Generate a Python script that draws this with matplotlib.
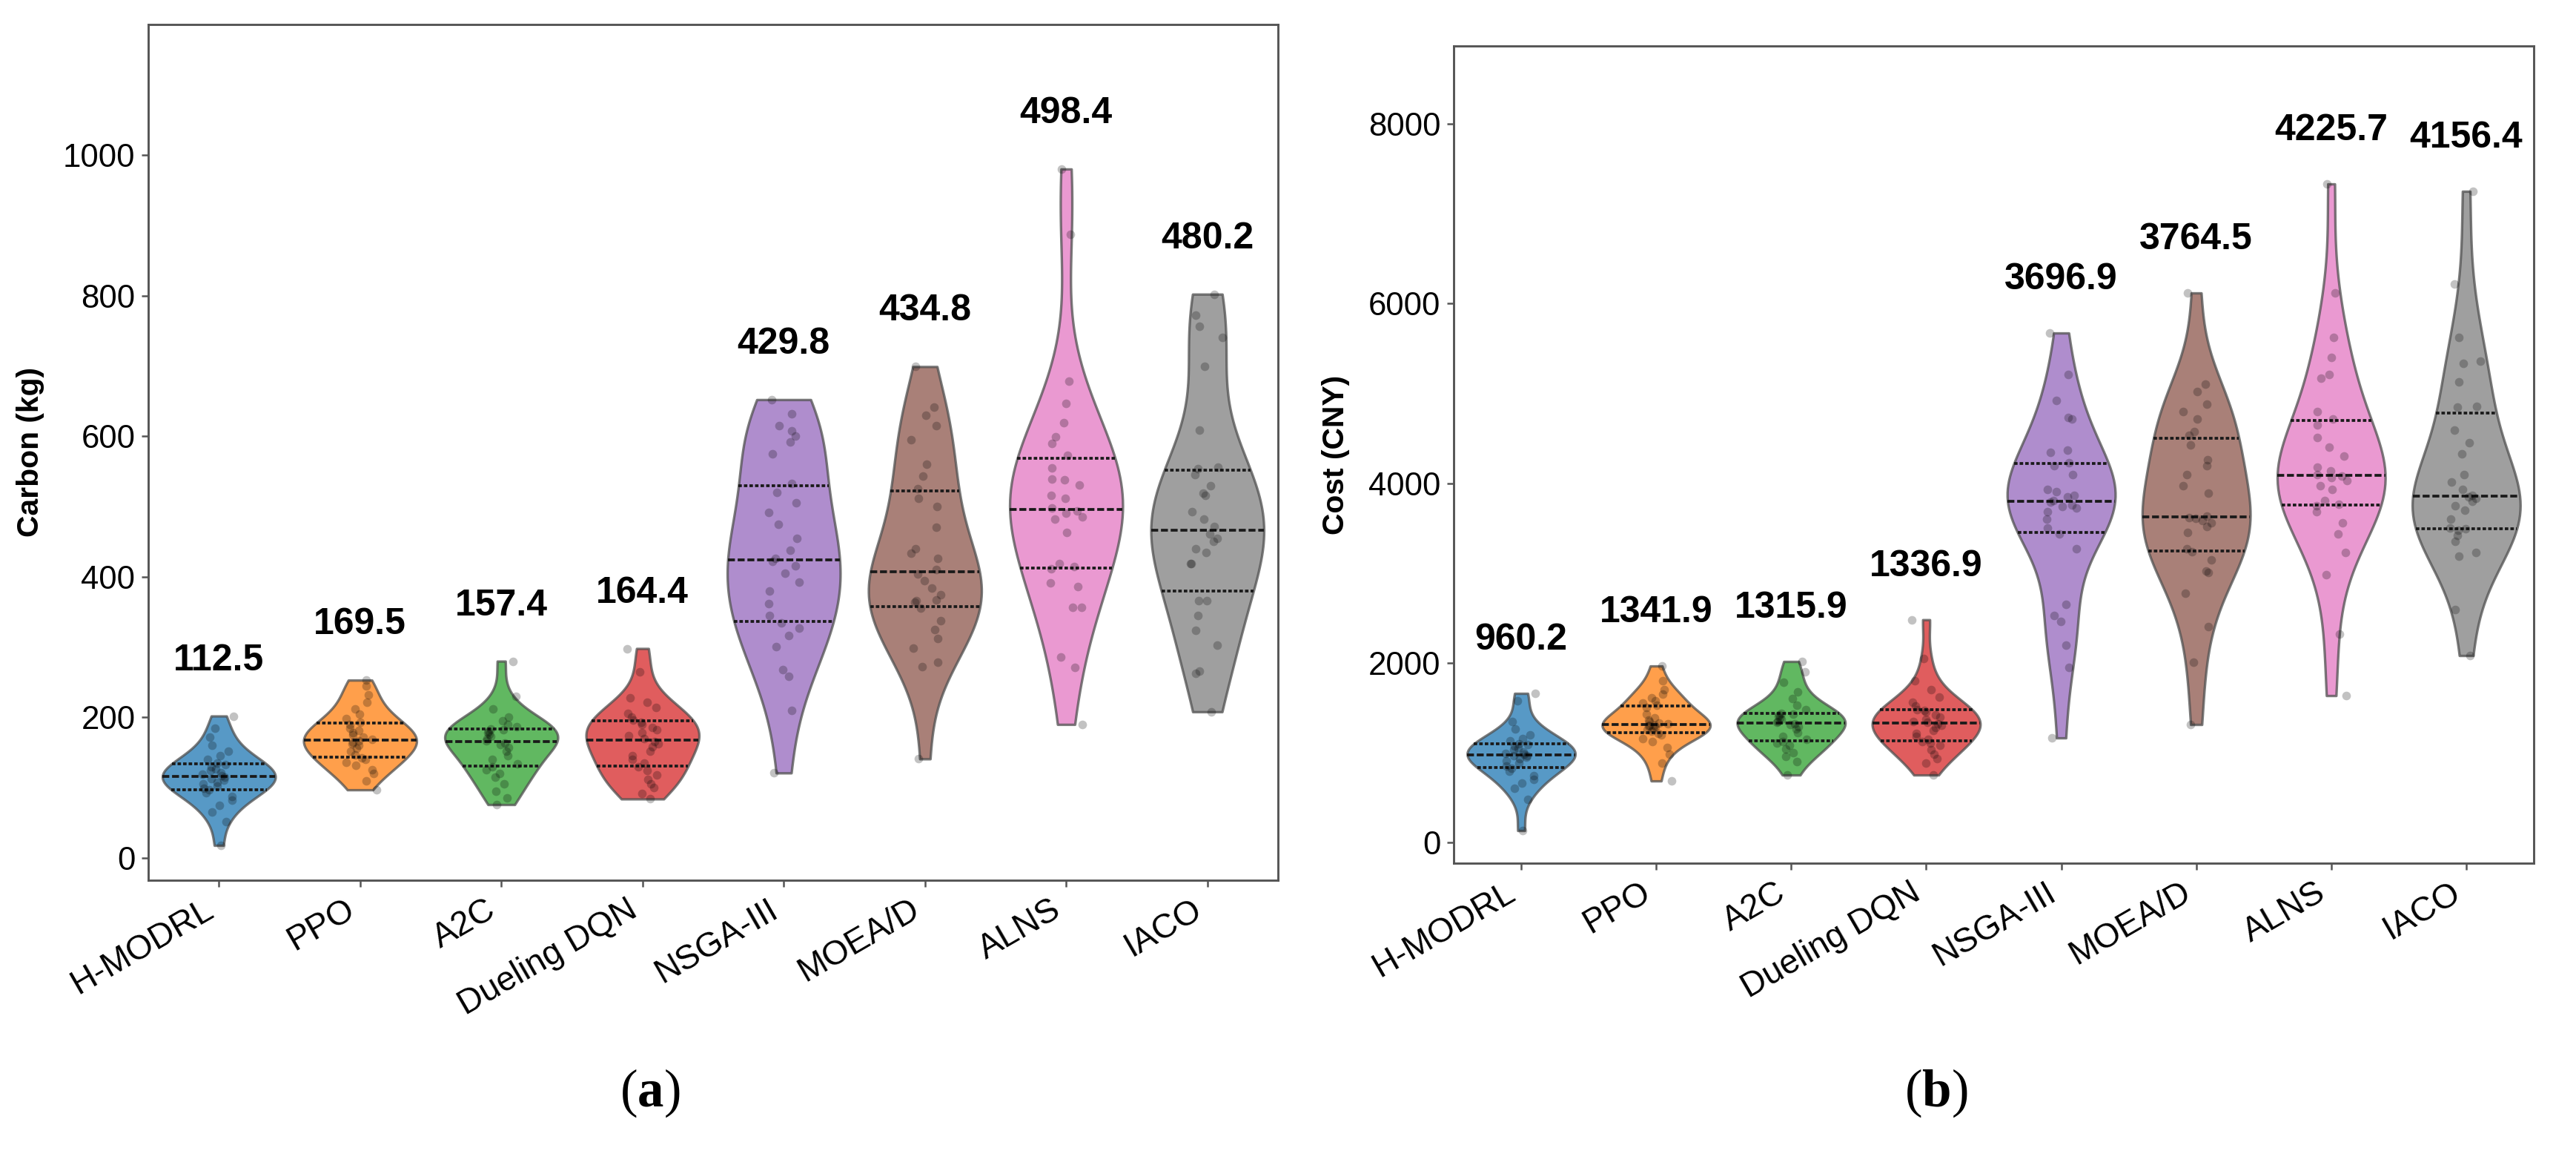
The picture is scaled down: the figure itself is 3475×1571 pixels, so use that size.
import numpy as np
import matplotlib
matplotlib.use("Agg")
import matplotlib.pyplot as plt
import seaborn as sns
import pandas as pd

plt.rcParams["font.family"] = ["Liberation Sans", "DejaVu Sans"]
plt.rcParams["mathtext.fontset"] = "custom"
plt.rcParams["mathtext.rm"] = "Liberation Serif"
plt.rcParams["mathtext.bf"] = "Liberation Serif:bold"
plt.rcParams["mathtext.it"] = "Liberation Serif:italic"

methods = ["H-MODRL", "PPO", "A2C", "Dueling DQN", "NSGA-III", "MOEA/D", "ALNS", "IACO"]
palette = ["#1f77b4", "#ff7f0e", "#2ca02c", "#d62728", "#9467bd", "#8c564b", "#e377c2", "#7f7f7f"]

# ---- (a) Carbon (kg) per run, read from the strip points ----
carbon_hmodrl = [18, 52, 65, 75, 82, 88, 93, 97, 99, 102, 105, 108, 111, 113, 115, 117, 119, 121, 124, 127,
                 130, 133, 135, 140, 146, 152, 160, 172, 185, 202]
carbon_ppo = [97, 110, 120, 126, 132, 136, 140, 142, 147, 152, 156, 160, 163, 165, 167, 169, 172, 175, 178, 181,
              185, 190, 193, 198, 205, 212, 222, 232, 245, 253]
carbon_a2c = [76, 85, 95, 105, 115, 120, 126, 130, 134, 140, 146, 152, 157, 161, 164, 167, 170, 173, 176, 178,
              180, 182, 184, 187, 190, 195, 200, 212, 230, 280]
carbon_ddqn = [84, 92, 100, 106, 112, 118, 125, 130, 135, 140, 146, 152, 158, 163, 166, 170, 174, 178, 182, 186,
               190, 193, 196, 200, 206, 214, 222, 228, 265, 298]
carbon_nsga3 = [121, 210, 258, 268, 301, 317, 327, 334, 345, 362, 380, 392, 405, 416, 422, 426, 438, 455, 475, 492,
                505, 520, 533, 575, 592, 600, 608, 615, 632, 652]
carbon_moead = [141, 272, 279, 299, 312, 325, 338, 355, 364, 366, 367, 375, 384, 395, 404, 410, 426, 434, 440, 470,
                500, 512, 525, 543, 560, 595, 615, 630, 641, 699]
carbon_alns = [190, 271, 286, 357, 357, 386, 391, 411, 415, 419, 463, 482, 485, 490, 494, 498, 512, 516, 531, 538,
               539, 555, 573, 590, 599, 619, 647, 678, 887, 980]
carbon_iaco = [208, 263, 266, 303, 324, 345, 366, 366, 419, 419, 435, 440, 450, 455, 461, 471, 482, 493, 516, 519,
               530, 545, 554, 556, 609, 699, 740, 756, 772, 802]
carbon_means = [112.5, 169.5, 157.4, 164.4, 429.8, 434.8, 498.4, 480.2]

# ---- (b) Cost (CNY) per run ----
cost_hmodrl = [132, 480, 600, 660, 700, 740, 790, 825, 850, 880, 905, 930, 950, 965, 970, 980, 995, 1010, 1030, 1050,
               1070, 1090, 1100, 1130, 1160, 1200, 1260, 1350, 1580, 1660]
cost_ppo = [685, 880, 980, 1060, 1120, 1160, 1195, 1215, 1240, 1255, 1270, 1285, 1295, 1302, 1308, 1318, 1330, 1345,
            1365, 1390, 1430, 1500, 1525, 1550, 1580, 1610, 1650, 1700, 1800, 1965]
cost_a2c = [751, 900, 960, 1000, 1040, 1080, 1110, 1125, 1150, 1180, 1220, 1260, 1290, 1310, 1325, 1335, 1350, 1370,
            1390, 1405, 1420, 1432, 1440, 1480, 1530, 1600, 1680, 1780, 1900, 2015]
cost_ddqn = [751, 880, 930, 980, 1030, 1080, 1110, 1125, 1150, 1180, 1215, 1250, 1280, 1305, 1325, 1335, 1350, 1370,
             1395, 1420, 1450, 1470, 1480, 1520, 1560, 1620, 1700, 1800, 2050, 2480]
cost_nsga3 = [1164, 1949, 2197, 2461, 2527, 2651, 3270, 3436, 3502, 3600, 3683, 3725, 3740, 3760, 3790, 3807, 3850,
              3865, 3906, 3931, 4096, 4195, 4230, 4344, 4369, 4715, 4732, 4922, 5211, 5673]
cost_moead = [1313, 2007, 2403, 2775, 3006, 3023, 3150, 3240, 3270, 3452, 3518, 3559, 3580, 3610, 3620, 3630, 3890,
              3972, 4096, 4195, 4261, 4426, 4530, 4575, 4715, 4798, 4881, 5021, 5104, 6119]
cost_alns = [1635, 2320, 2981, 3229, 3436, 3559, 3683, 3750, 3766, 3807, 3931, 3972, 4030, 4060, 4080, 4096, 4137,
             4179, 4300, 4400, 4509, 4650, 4715, 4798, 5170, 5211, 5400, 5624, 6119, 7333]
cost_iaco = [2081, 2593, 3188, 3229, 3350, 3420, 3480, 3493, 3502, 3601, 3700, 3749, 3800, 3830, 3850, 3865, 3931,
             4013, 4096, 4327, 4451, 4592, 4850, 4856, 5129, 5335, 5360, 5624, 6219, 7251]
cost_means = [960.2, 1341.9, 1315.9, 1336.9, 3696.9, 3764.5, 4225.7, 4156.4]

carbon_groups = [carbon_hmodrl, carbon_ppo, carbon_a2c, carbon_ddqn, carbon_nsga3, carbon_moead, carbon_alns, carbon_iaco]
cost_groups = [cost_hmodrl, cost_ppo, cost_a2c, cost_ddqn, cost_nsga3, cost_moead, cost_alns, cost_iaco]


def long_df(groups):
    rows = []
    for m, vals in zip(methods, groups):
        for v in vals:
            rows.append((m, v))
    return pd.DataFrame(rows, columns=["method", "value"])


fig = plt.figure(figsize=(3475 / 300, 1571 / 300), dpi=300)
ax1 = fig.add_axes([200 / 3475, 1 - 1187 / 1571, 1524 / 3475, 1154 / 1571])
ax2 = fig.add_axes([1961 / 3475, 1 - 1164 / 1571, 1457 / 3475, 1102 / 1571])

spine_col = "#555555"


def draw(ax, groups, means, ylim, yticks, ylabel):
    df = long_df(groups)
    sns.violinplot(data=df, x="method", y="value", hue="method", order=methods, hue_order=methods,
                   palette=palette, legend=False, inner="quart", cut=0, density_norm="width",
                   width=0.8, linewidth=0.8, linecolor="#505050", saturation=1,
                   inner_kws=dict(color="#1a1a1a", linewidth=0.9), alpha=0.75, ax=ax)
    np.random.seed(3)
    sns.stripplot(data=df, x="method", y="value", order=methods, color="black", alpha=0.24,
                  size=2.8, jitter=0.12, linewidth=0, ax=ax, zorder=3)
    ax.set_xlim(-0.5, 7.5)
    ax.set_ylim(*ylim)
    rng = ylim[1] - ylim[0]
    for i, (vals, mu) in enumerate(zip(groups, means)):
        ax.text(i, max(vals) + 0.065 * rng, f"{mu:.1f}", ha="center", va="center",
                fontsize=12, fontweight="bold", color="black")
    ax.set_yticks(yticks)
    ax.set_xlabel("")
    ax.set_ylabel(ylabel, fontsize=9.8, fontweight="bold", labelpad=6)
    ax.set_xticks(range(len(methods)))
    ax.set_xticklabels(methods, rotation=30, ha="right", fontsize=11)
    ax.tick_params(axis="y", labelsize=10.5, length=2.2, width=0.6, color=spine_col, pad=2)
    ax.tick_params(axis="x", length=2.2, width=0.6, color=spine_col, pad=2)
    for s in ax.spines.values():
        s.set_visible(True)
        s.set_color(spine_col)
        s.set_linewidth(0.7)


draw(ax1, carbon_groups, carbon_means, (-31.6, 1185.6), [0, 200, 400, 600, 800, 1000], "Carbon (kg)")
draw(ax2, cost_groups, cost_means, (-231, 8869), [0, 2000, 4000, 6000, 8000], "Cost (CNY)")

fig.text(877 / 3475, 1 - 1474 / 1571, r"($\mathbf{a}$)", ha="center", va="center", fontsize=17,
         family=["Liberation Serif", "DejaVu Serif"])
fig.text(2612 / 3475, 1 - 1474 / 1571, r"($\mathbf{b}$)", ha="center", va="center", fontsize=17,
         family=["Liberation Serif", "DejaVu Serif"])

fig.savefig("out.png", dpi=300)
